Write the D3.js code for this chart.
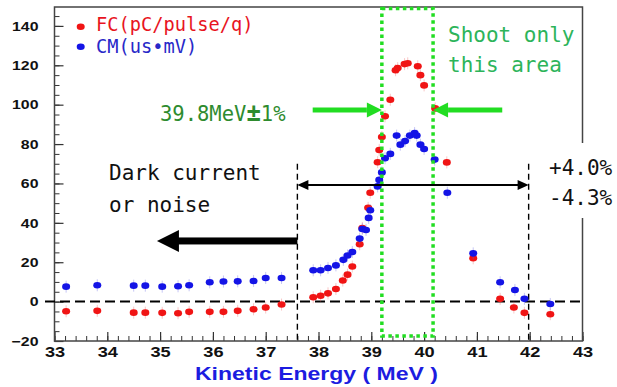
<!DOCTYPE html>
<html>
<head>
<meta charset="utf-8">
<script src="https://cdn.jsdelivr.net/npm/d3@7"></script>
<style>
  body { margin: 0; background: #fff; }
  svg { display: block; }
</style>
</head>
<body>
<div id="chart"></div>
<script>
// FC (pC/pulse/q) - red points
const fcEnergy = [33.22, 33.81, 34.50, 34.72, 35.04, 35.34, 35.55, 35.94, 36.20, 36.47, 36.77, 37.00, 37.30,
  37.90, 38.04, 38.18, 38.33, 38.46, 38.55, 38.64, 38.78, 38.83, 38.94, 38.98, 39.12, 39.15, 39.20, 39.26,
  39.36, 39.46, 39.50, 39.63, 39.69, 39.88, 39.93, 40.00, 40.21, 40.43, 40.93, 41.44, 41.70, 41.90, 42.39];
const fcValue = [-4.9, -4.7, -5.6, -5.6, -5.7, -5.9, -5.2, -5.2, -5.2, -4.7, -3.9, -3.0, -1.5,
  2.2, 3.0, 4.2, 6.4, 10.7, 13.7, 17.8, 29.1, 37.4, 47.6, 55.3, 70.8, 77.0, 83.6, 94.1,
  102.5, 117.5, 118.6, 120.6, 121.0, 119.5, 115.0, 109.8, 98.1, 70.7, 22.0, 1.4, -3.0, -5.7, -6.4];

// CM (us*mV) - blue points
const cmEnergy = [33.22, 33.81, 34.50, 34.72, 35.04, 35.34, 35.55, 35.94, 36.20, 36.47, 36.77, 37.00, 37.30,
  37.90, 38.04, 38.18, 38.33, 38.47, 38.55, 38.64, 38.78, 38.83, 38.90, 38.95, 38.98, 39.12, 39.15, 39.20,
  39.26, 39.36, 39.48, 39.55, 39.64, 39.73, 39.82, 39.86, 39.93, 40.00, 40.20, 40.44, 40.93, 41.44, 41.72,
  41.90, 42.39];
const cmValue = [7.6, 8.3, 8.1, 8.1, 7.6, 7.8, 8.3, 9.8, 10.2, 10.3, 10.5, 12.0, 12.0,
  15.9, 15.9, 17.1, 18.4, 21.2, 23.4, 25.2, 32.0, 36.9, 36.4, 42.5, 46.4, 58.5, 61.8, 65.6,
  72.8, 75.0, 84.3, 79.7, 81.5, 84.3, 85.6, 84.3, 79.7, 77.5, 72.1, 55.3, 24.5, 9.8, 5.9,
  1.4, -1.2];

const xTicks = [33, 34, 35, 36, 37, 38, 39, 40, 41, 42, 43];
const yTicks = [-20, 0, 20, 40, 60, 80, 100, 120, 140];

// annotation values (data units)
const shootRange = [39.2, 40.17];
const spreadRange = [37.6, 41.98];
const darkArrowTip = 34.94;

const width = 617, height = 387;
const x = d3.scaleLinear().domain([33, 43]).range([54.5, 582.5]);
const y = d3.scaleLinear().domain([-20, 149.6]).range([341, 7]);

const svg = d3.select('#chart').append('svg')
  .attr('width', width)
  .attr('height', height);

const tickFont = '"Liberation Sans", Arial, sans-serif';
const monoFont = '"DejaVu Sans Mono", monospace';

// stretch helper: the original labels are horizontally wide
function stretch(sel, k) {
  sel.each(function() {
    const len = this.getComputedTextLength();
    d3.select(this).attr('textLength', len * k).attr('lengthAdjust', 'spacingAndGlyphs');
  });
}

// minor ticks
svg.append('g')
  .attr('transform', `translate(0,${y(-20)})`)
  .call(d3.axisBottom(x).tickValues(d3.range(33, 43.01, 0.2)).tickSize(-5).tickFormat(''))
  .call(g => g.select('.domain').remove())
  .selectAll('line').attr('stroke', '#333');

svg.append('g')
  .attr('transform', `translate(${x(33)},0)`)
  .call(d3.axisLeft(y).tickValues(d3.range(-20, 146, 5)).tickSize(-5).tickFormat(''))
  .call(g => g.select('.domain').remove())
  .selectAll('line').attr('stroke', '#333');

// major ticks + labels
const xAxis = svg.append('g')
  .attr('transform', `translate(0,${y(-20)})`)
  .call(d3.axisBottom(x).tickValues(xTicks).tickSize(-9).tickPadding(6).tickFormat(d3.format('d')))
  .call(g => g.select('.domain').remove());
xAxis.selectAll('line').attr('stroke', '#333').attr('stroke-width', 1.2);
xAxis.selectAll('text')
  .attr('font-family', tickFont)
  .attr('font-weight', 'bold')
  .attr('font-size', 14)
  .attr('fill', '#111')
  .call(stretch, 1.3);

const yAxis = svg.append('g')
  .attr('transform', `translate(${x(33)},0)`)
  .call(d3.axisLeft(y).tickValues(yTicks).tickSize(-9).tickPadding(16).tickFormat(d3.format('d')))
  .call(g => g.select('.domain').remove());
yAxis.selectAll('line').attr('stroke', '#333').attr('stroke-width', 1.2);
yAxis.selectAll('text')
  .attr('font-family', tickFont)
  .attr('font-weight', 'bold')
  .attr('font-size', 13)
  .attr('fill', '#111')
  .call(stretch, 1.22);

// frame
svg.append('rect')
  .attr('x', x(33))
  .attr('y', y(149.6))
  .attr('width', x(43) - x(33))
  .attr('height', y(-20) - y(149.6))
  .attr('fill', 'none')
  .attr('stroke', '#444')
  .attr('stroke-width', 1.5);

// axis title
svg.append('text')
  .attr('x', 195)
  .attr('y', 380)
  .attr('font-family', tickFont)
  .attr('font-weight', 'bold')
  .attr('font-size', 17.5)
  .attr('fill', '#1c1ce0')
  .attr('textLength', 243)
  .attr('lengthAdjust', 'spacingAndGlyphs')
  .text('Kinetic Energy ( MeV )');

// zero line
svg.append('line')
  .attr('x1', 45).attr('x2', x(43))
  .attr('y1', y(0)).attr('y2', y(0))
  .attr('stroke', '#000')
  .attr('stroke-width', 2)
  .attr('stroke-dasharray', '10,5');

// vertical dashed limits
svg.selectAll('.limit')
  .data(spreadRange)
  .join('line')
  .attr('class', 'limit')
  .attr('x1', d => x(d)).attr('x2', d => x(d))
  .attr('y1', y(70)).attr('y2', y(-20))
  .attr('stroke', '#000')
  .attr('stroke-width', 1.4)
  .attr('stroke-dasharray', '6,4');

// data points
function drawSeries(energy, value, color, haloColor) {
  const pts = energy.map((e, i) => ({ e, v: value[i] }));
  const g = svg.append('g');
  g.selectAll('line')
    .data(pts)
    .join('line')
    .attr('x1', d => x(d.e)).attr('x2', d => x(d.e))
    .attr('y1', d => y(d.v) - 6).attr('y2', d => y(d.v) + 6)
    .attr('stroke', haloColor)
    .attr('stroke-width', 1)
    .attr('opacity', 0.35);
  g.selectAll('ellipse')
    .data(pts)
    .join('ellipse')
    .attr('cx', d => x(d.e))
    .attr('cy', d => y(d.v))
    .attr('rx', 4)
    .attr('ry', 3.3)
    .attr('fill', color);
}
drawSeries(fcEnergy, fcValue, '#f01414', '#f06060');
drawSeries(cmEnergy, cmValue, '#1414e6', '#6060e6');

// shoot area box
svg.append('rect')
  .attr('x', x(shootRange[0]))
  .attr('y', y(149.6) + 1.5)
  .attr('width', x(shootRange[1]) - x(shootRange[0]))
  .attr('height', y(-17.5) - y(149.6) - 1.5)
  .attr('fill', 'none')
  .attr('stroke', '#22dd22')
  .attr('stroke-width', 3.5)
  .attr('stroke-dasharray', '3.5,3.5');

// green arrows pointing at the box
const arrowY = y(97.3);
function greenArrow(tail, tip) {
  const dir = Math.sign(tip - tail);
  const base = tip - dir * 15;
  svg.append('line')
    .attr('x1', tail).attr('x2', base)
    .attr('y1', arrowY).attr('y2', arrowY)
    .attr('stroke', '#22dd22')
    .attr('stroke-width', 5);
  svg.append('path')
    .attr('d', `M${tip},${arrowY} L${base},${arrowY - 7.5} L${base},${arrowY + 7.5} Z`)
    .attr('fill', '#22dd22');
}
greenArrow(x(37.89), x(shootRange[0]));
greenArrow(x(41.48), x(shootRange[1]));

// double-headed spread arrow
const spreadY = y(59.2);
const sx0 = x(spreadRange[0]), sx1 = x(spreadRange[1]);
svg.append('line')
  .attr('x1', sx0 + 8).attr('x2', sx1 - 8)
  .attr('y1', spreadY).attr('y2', spreadY)
  .attr('stroke', '#000')
  .attr('stroke-width', 2);
svg.append('path')
  .attr('d', `M${sx0},${spreadY} L${sx0 + 11},${spreadY - 5} L${sx0 + 11},${spreadY + 5} Z`)
  .attr('fill', '#000');
svg.append('path')
  .attr('d', `M${sx1},${spreadY} L${sx1 - 11},${spreadY - 5} L${sx1 - 11},${spreadY + 5} Z`)
  .attr('fill', '#000');

// thick black arrow to the dark current region
const darkY = y(30.8);
const tipX = x(darkArrowTip);
svg.append('rect')
  .attr('x', tipX + 21)
  .attr('y', darkY - 3.5)
  .attr('width', sx0 - tipX - 21)
  .attr('height', 7)
  .attr('fill', '#000');
svg.append('path')
  .attr('d', `M${tipX},${darkY} L${tipX + 22},${darkY - 11} L${tipX + 22},${darkY + 11} Z`)
  .attr('fill', '#000');

// white box behind percentages
svg.append('rect')
  .attr('x', 540).attr('y', 143)
  .attr('width', 77).attr('height', 75)
  .attr('fill', '#fff');

// texts
function label(txt, px, py, size, color) {
  return svg.append('text')
    .attr('x', px).attr('y', py)
    .attr('font-family', monoFont)
    .attr('font-size', size)
    .attr('fill', color)
    .text(txt);
}
label('+4.0%', 549, 175, 21, '#111');
label('-4.3%', 549, 205, 21, '#111');
label('Dark current', 109, 180, 21, '#111');
label('or noise', 109, 212, 21, '#111');

const energyLabel = label('39.8MeV', 160, 121, 20.5, '#2e8b2e');
energyLabel.append('tspan')
  .attr('font-size', 24)
  .attr('font-weight', 'bold')
  .text('\u00b1');
energyLabel.append('tspan').text('1%');

label('Shoot only', 448, 42, 21, '#2db45a');
label('this area', 448, 72, 21, '#2db45a');

// legend
svg.append('ellipse').attr('cx', 80.7).attr('cy', 26.7).attr('rx', 4).attr('ry', 3.3).attr('fill', '#f01414');
svg.append('ellipse').attr('cx', 80.7).attr('cy', 46.7).attr('rx', 4).attr('ry', 3.3).attr('fill', '#1414e6');
label('FC(pC/pulse/q)', 96, 31, 18.7, '#e8141e');
label('CM(us\u2022mV)', 96, 53, 18.7, '#2828c8');
</script>
</body>
</html>
